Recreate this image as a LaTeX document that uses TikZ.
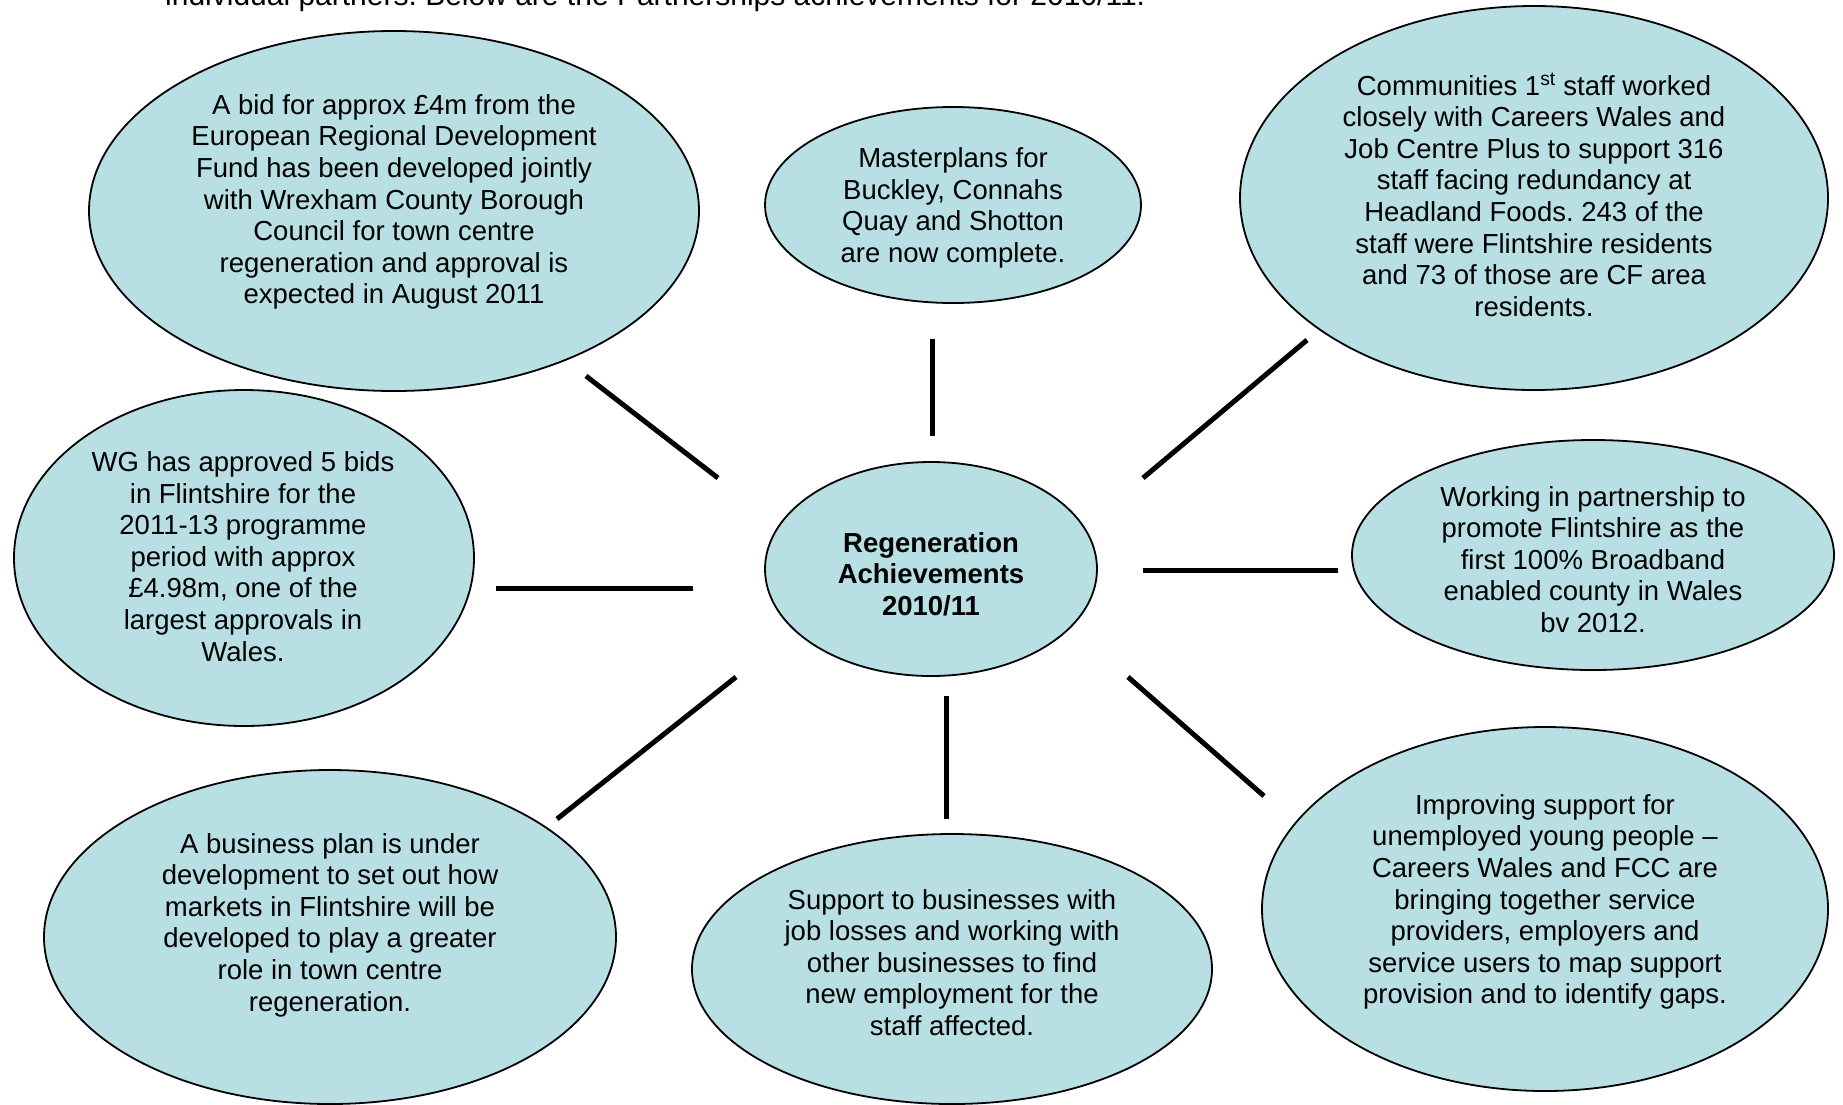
\documentclass[tikz,border=0pt]{standalone}
\usepackage{fontspec}
\setmainfont{Liberation Sans}
\usetikzlibrary{shapes.geometric}
\definecolor{bubblefill}{RGB}{184,223,227}
\frenchspacing
\begin{document}
\begin{tikzpicture}[x=1pt,y=-1pt,
  bubble/.style={ellipse,draw=black,line width=1.8pt,fill=bubblefill,inner sep=0pt},
  bubbletext/.style={align=center,inner sep=0pt,font=\fontsize{27.5}{31.6}\selectfont},
  spoke/.style={draw=black,line width=5pt}]
\useasboundingbox (0,0) rectangle (1843,1104);
\fill[white] (0,0) rectangle (1843,1104);

% running text above the figure
\node[anchor=base west,inner sep=0pt,font=\fontsize{30}{34.5}\selectfont] (intro) at (165,5)
  {individual partners. Below are the Partnerships achievements for 2010/11.};

% bubbles
\node[bubble,minimum width=610pt,minimum height=360pt] (tl) at (394,211) {};
\node[bubble,minimum width=376pt,minimum height=196pt] (tm) at (953,205) {};
\node[bubble,minimum width=588pt,minimum height=384pt] (tr) at (1534,198) {};
\node[bubble,minimum width=460pt,minimum height=336pt] (ml) at (244,558) {};
\node[bubble,minimum width=332pt,minimum height=214pt] (hub) at (931,569) {};
\node[bubble,minimum width=482pt,minimum height=230pt] (mr) at (1593,555) {};
\node[bubble,minimum width=572pt,minimum height=334pt] (bl) at (330,937) {};
\node[bubble,minimum width=520pt,minimum height=270pt] (bm) at (952,969) {};
\node[bubble,minimum width=566pt,minimum height=364pt] (br) at (1545,909) {};

% bubble texts
\node[bubbletext] (tltext) at (394,202) {A bid for approx £4m from the\\European Regional Development\\Fund has been developed jointly\\with Wrexham County Borough\\Council for town centre\\regeneration and approval is\\expected in August 2011};
\node[bubbletext] (tmtext) at (953,208) {Masterplans for\\Buckley, Connahs\\Quay and Shotton\\are now complete.};
\node[bubbletext] (trtext) at (1534,195) {Communities 1\textsuperscript{st} staff worked\\closely with Careers Wales and\\Job Centre Plus to support 316\\staff facing redundancy at\\Headland Foods. 243 of the\\staff were Flintshire residents\\and 73 of those are CF area\\residents.};
\node[bubbletext] (mltext) at (243,556.5) {WG has approved 5 bids\\in Flintshire for the\\2011-13 programme\\period with approx\\£4.98m, one of the\\largest approvals in\\Wales.};
\node[bubbletext,font=\fontsize{27.5}{31.6}\selectfont\bfseries] (hubtext) at (931,574) {Regeneration\\Achievements\\2010/11};
\node[bubbletext] (mrtext) at (1593,559.5) {Working in partnership to\\promote Flintshire as the\\first 100\% Broadband\\enabled county in Wales\\bv 2012.};
\node[bubbletext] (bltext) at (330,925) {A business plan is under\\development to set out how\\markets in Flintshire will be\\developed to play a greater\\role in town centre\\regeneration.};
\node[bubbletext] (bmtext) at (952,962.5) {Support to businesses with\\job losses and working with\\other businesses to find\\new employment for the\\staff affected.};
\node[bubbletext] (brtext) at (1545,902) {Improving support for\\unemployed young people –\\Careers Wales and FCC are\\bringing together service\\providers, employers and\\service users to map support\\provision and to identify gaps.};

% spoke end points
\coordinate (tlA) at (586,376);  \coordinate (tlB) at (718,478);
\coordinate (tmA) at (932,339);  \coordinate (tmB) at (932,436);
\coordinate (trA) at (1307,340); \coordinate (trB) at (1143,478);
\coordinate (mlA) at (496,588);  \coordinate (mlB) at (693,588);
\coordinate (mrA) at (1143,570); \coordinate (mrB) at (1338,570);
\coordinate (blA) at (736,677);  \coordinate (blB) at (557,819);
\coordinate (bmA) at (946,696);  \coordinate (bmB) at (946,819);
\coordinate (brA) at (1128,677); \coordinate (brB) at (1264,796);

% spokes
\draw[spoke] (tlA) -- (tlB);
\draw[spoke] (tmA) -- (tmB);
\draw[spoke] (trA) -- (trB);
\draw[spoke] (mlA) -- (mlB);
\draw[spoke] (mrA) -- (mrB);
\draw[spoke] (blA) -- (blB);
\draw[spoke] (bmA) -- (bmB);
\draw[spoke] (brA) -- (brB);
\end{tikzpicture}
\end{document}
